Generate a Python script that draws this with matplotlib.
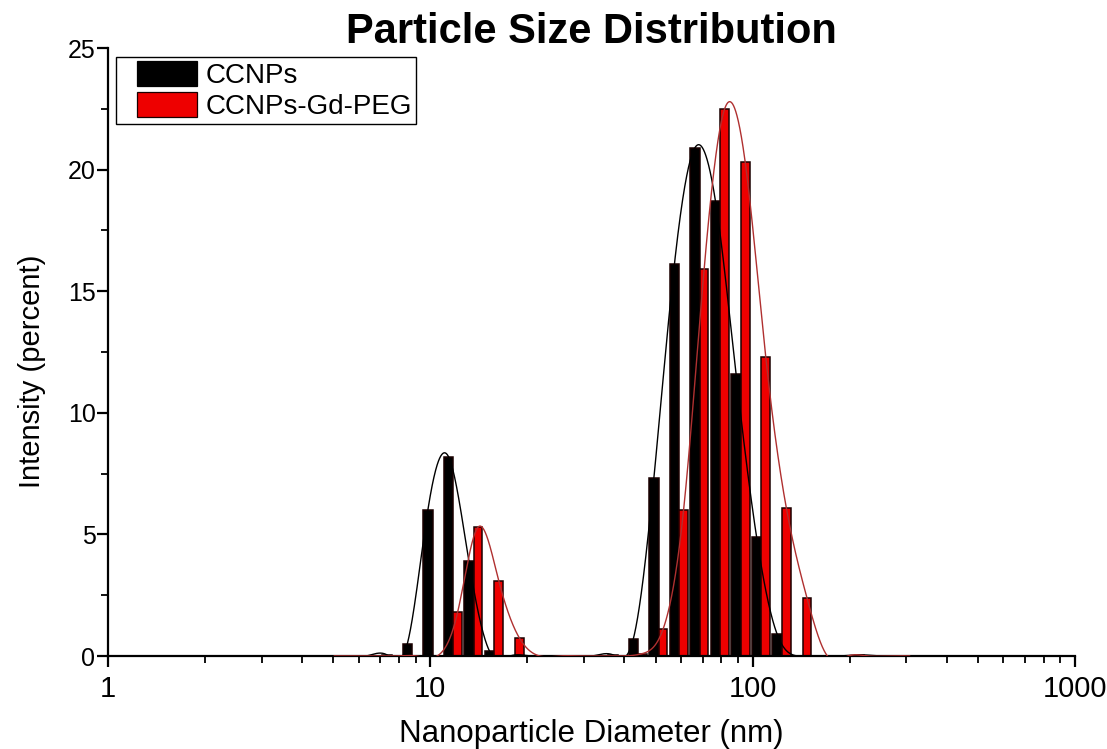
import numpy as np
import matplotlib
matplotlib.use('Agg')
import matplotlib.pyplot as plt
from matplotlib.patches import Patch, Rectangle
from matplotlib.legend_handler import HandlerPatch
from matplotlib.ticker import MultipleLocator, LogLocator, NullFormatter, FixedLocator, FixedFormatter
from matplotlib import font_manager

# ---------------- data ----------------
size_bins = [4.849, 5.615, 6.503, 7.531, 8.721, 10.1, 11.7, 13.54, 15.69, 18.17,
             21.04, 24.36, 28.21, 32.67, 37.84, 43.82, 50.75, 58.77, 68.06, 78.82,
             91.28, 105.7, 122.4, 141.8, 164.2, 190.1, 220.2, 255.0, 295.3]
ccnps = [0, 0, 0, 0.05, 0.5, 6.0, 8.2, 3.9, 0.2, 0,
         0, 0, 0, 0, 0.05, 0.7, 7.3, 16.1, 20.9, 18.7,
         11.6, 4.9, 0.9, 0, 0, 0, 0.05, 0, 0]
ccnps_gd_peg = [0, 0, 0, 0, 0, 0, 1.8, 5.3, 3.1, 0.75,
                0, 0, 0, 0, 0, 0.1, 1.1, 6.0, 15.9, 22.5,
                20.3, 12.3, 6.1, 2.4, 0, 0, 0, 0, 0]
series_labels = ['CCNPs', 'CCNPs-Gd-PEG']
x_ticks = [1, 10, 100, 1000]
y_ticks = [0, 5, 10, 15, 20, 25]

# ---------------- fonts ----------------
avail = {f.name for f in font_manager.fontManager.ttflist}
REG = 'Liberation Sans' if 'Liberation Sans' in avail else 'DejaVu Sans'
NARROW = 'Liberation Sans Narrow' if 'Liberation Sans Narrow' in avail else REG
plt.rcParams['font.family'] = [REG, 'DejaVu Sans']


def natural_spline(x, y, xs):
    x = np.asarray(x, float); y = np.asarray(y, float)
    n = len(x); h = np.diff(x)
    A = np.zeros((n, n)); b = np.zeros(n)
    A[0, 0] = 1; A[-1, -1] = 1
    for i in range(1, n - 1):
        A[i, i - 1] = h[i - 1]; A[i, i] = 2 * (h[i - 1] + h[i]); A[i, i + 1] = h[i]
        b[i] = 3 * ((y[i + 1] - y[i]) / h[i] - (y[i] - y[i - 1]) / h[i - 1])
    c = np.linalg.solve(A, b)
    bb = (y[1:] - y[:-1]) / h - h * (2 * c[:-1] + c[1:]) / 3
    d = (c[1:] - c[:-1]) / (3 * h)
    idx = np.clip(np.searchsorted(x, xs) - 1, 0, n - 2)
    dx = xs - x[idx]
    return y[idx] + bb[idx] * dx + c[idx] * dx ** 2 + d[idx] * dx ** 3


fig = plt.figure(figsize=(11.07, 7.49), dpi=100)
ax = fig.add_axes([108 / 1107, 1 - 656 / 749, (1075 - 108) / 1107, (656 - 48) / 749])

logb = np.log10(size_bins)
styles = [
    (ccnps, '#000000', -0.012, 0.0295),
    (ccnps_gd_peg, '#ee0000', 0.0165, 0.027),
]
for vals, fc, off, w in styles:
    vals = np.asarray(vals, float)
    lc = logb + off
    left = 10 ** (lc - w / 2)
    right = 10 ** (lc + w / 2)
    m = vals > 0
    ax.bar(left[m], vals[m], width=(right - left)[m], align='edge',
           color=fc, edgecolor='#1a0000', linewidth=1.1, zorder=2)

curve_cols = ['#000000', '#b03030']
for (vals, fc, off, w), cc in zip(styles, curve_cols):
    lc = logb + off
    xs = np.linspace(lc[0], lc[-1], 3000)
    ys = natural_spline(lc, vals, xs)
    ax.plot(10 ** xs, ys, color=cc, lw=1.0, zorder=3)

ax.set_xscale('log')
ax.set_xlim(1, 1000)
ax.set_ylim(0, 25)
for s in ['top', 'right']:
    ax.spines[s].set_visible(False)
for s in ['left', 'bottom']:
    ax.spines[s].set_linewidth(1.6)

ax.xaxis.set_major_locator(FixedLocator(x_ticks))
ax.xaxis.set_major_formatter(FixedFormatter([str(t) for t in x_ticks]))
ax.xaxis.set_minor_locator(LogLocator(base=10, subs=np.arange(2, 10)))
ax.xaxis.set_minor_formatter(NullFormatter())
ax.yaxis.set_major_locator(FixedLocator(y_ticks))
ax.yaxis.set_minor_locator(MultipleLocator(2.5))

ax.tick_params(axis='both', which='major', direction='out', length=8, width=1.6)
ax.tick_params(axis='both', which='minor', direction='out', length=5, width=1.3)
ax.tick_params(axis='y', labelsize=18, pad=1)
ax.tick_params(axis='x', labelsize=21, pad=6)
for lab in ax.get_xticklabels():
    lab.set_family(NARROW)

ax.set_xlabel('Nanoparticle Diameter (nm)', family=NARROW, fontsize=22.5, labelpad=11)
ax.set_ylabel('Intensity (percent)', family=NARROW, fontsize=21)
ax.yaxis.set_label_coords(-0.064, 0.469)
ax.set_title('Particle Size Distribution', fontsize=30, fontweight='bold', y=1.009, pad=0)


def offset_patch(legend, orig_handle, xdescent, ydescent, width, height, fontsize):
    shift = 12.0
    return Rectangle((-xdescent + shift, -ydescent), width - shift, height)


handles = [Patch(facecolor='#000000', edgecolor='#000000', linewidth=0.9),
           Patch(facecolor='#ee0000', edgecolor='#1a0000', linewidth=0.9)]
leg = ax.legend(handles, series_labels, loc='upper left', bbox_to_anchor=(0.0083, 0.985),
                fontsize=20, frameon=True, fancybox=False, framealpha=1,
                edgecolor='#000000', handlelength=2.75, handleheight=1.0,
                labelspacing=0.1, handletextpad=0.32, borderpad=0.15, borderaxespad=0,
                handler_map={Patch: HandlerPatch(patch_func=offset_patch)})
leg.get_frame().set_linewidth(1.0)

fig.savefig('out.png', dpi=100)
